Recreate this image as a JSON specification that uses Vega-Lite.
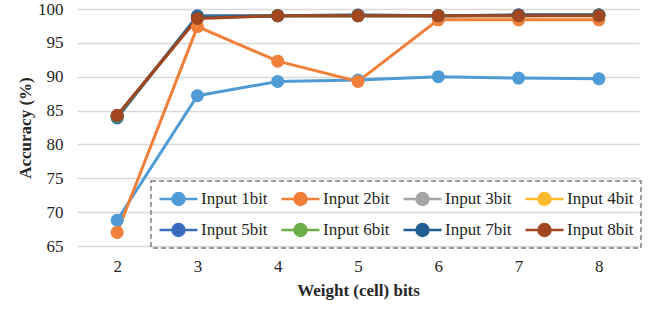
{
  "$schema": "https://vega.github.io/schema/vega-lite/v6.json",
  "width": 562,
  "height": 237,
  "autosize": "none",
  "padding": {"left": 77, "top": 9, "right": 15, "bottom": 65},
  "background": "white",
  "config": {
    "view": {"stroke": null},
    "axis": {"labelFont": "Liberation Serif", "labelFontSize": 17, "labelColor": "#262626", "titleFont": "Liberation Serif", "titleFontSize": 17, "titleFontWeight": "bold", "titleColor": "#262626", "domain": false, "ticks": false}
  },
  "data": {"values": [
    {"bits": 2, "series": "Input 1bit", "acc": 68.8},
    {"bits": 3, "series": "Input 1bit", "acc": 87.2},
    {"bits": 4, "series": "Input 1bit", "acc": 89.3},
    {"bits": 5, "series": "Input 1bit", "acc": 89.5},
    {"bits": 6, "series": "Input 1bit", "acc": 90.0},
    {"bits": 7, "series": "Input 1bit", "acc": 89.8},
    {"bits": 8, "series": "Input 1bit", "acc": 89.7},
    {"bits": 2, "series": "Input 2bit", "acc": 67.0},
    {"bits": 3, "series": "Input 2bit", "acc": 97.4},
    {"bits": 4, "series": "Input 2bit", "acc": 92.3},
    {"bits": 5, "series": "Input 2bit", "acc": 89.3},
    {"bits": 6, "series": "Input 2bit", "acc": 98.4},
    {"bits": 7, "series": "Input 2bit", "acc": 98.4},
    {"bits": 8, "series": "Input 2bit", "acc": 98.4},
    {"bits": 2, "series": "Input 3bit", "acc": 84.1},
    {"bits": 3, "series": "Input 3bit", "acc": 98.9},
    {"bits": 4, "series": "Input 3bit", "acc": 99.0},
    {"bits": 5, "series": "Input 3bit", "acc": 99.1},
    {"bits": 6, "series": "Input 3bit", "acc": 99.0},
    {"bits": 7, "series": "Input 3bit", "acc": 99.1},
    {"bits": 8, "series": "Input 3bit", "acc": 99.1},
    {"bits": 2, "series": "Input 4bit", "acc": 84.0},
    {"bits": 3, "series": "Input 4bit", "acc": 98.9},
    {"bits": 4, "series": "Input 4bit", "acc": 99.0},
    {"bits": 5, "series": "Input 4bit", "acc": 99.0},
    {"bits": 6, "series": "Input 4bit", "acc": 99.0},
    {"bits": 7, "series": "Input 4bit", "acc": 99.0},
    {"bits": 8, "series": "Input 4bit", "acc": 99.0},
    {"bits": 2, "series": "Input 5bit", "acc": 83.9},
    {"bits": 3, "series": "Input 5bit", "acc": 99.0},
    {"bits": 4, "series": "Input 5bit", "acc": 99.0},
    {"bits": 5, "series": "Input 5bit", "acc": 99.1},
    {"bits": 6, "series": "Input 5bit", "acc": 99.0},
    {"bits": 7, "series": "Input 5bit", "acc": 99.1},
    {"bits": 8, "series": "Input 5bit", "acc": 99.1},
    {"bits": 2, "series": "Input 6bit", "acc": 84.1},
    {"bits": 3, "series": "Input 6bit", "acc": 98.8},
    {"bits": 4, "series": "Input 6bit", "acc": 99.0},
    {"bits": 5, "series": "Input 6bit", "acc": 99.0},
    {"bits": 6, "series": "Input 6bit", "acc": 99.0},
    {"bits": 7, "series": "Input 6bit", "acc": 99.0},
    {"bits": 8, "series": "Input 6bit", "acc": 99.1},
    {"bits": 2, "series": "Input 7bit", "acc": 84.2},
    {"bits": 3, "series": "Input 7bit", "acc": 98.8},
    {"bits": 4, "series": "Input 7bit", "acc": 99.0},
    {"bits": 5, "series": "Input 7bit", "acc": 99.0},
    {"bits": 6, "series": "Input 7bit", "acc": 99.0},
    {"bits": 7, "series": "Input 7bit", "acc": 99.1},
    {"bits": 8, "series": "Input 7bit", "acc": 99.1},
    {"bits": 2, "series": "Input 8bit", "acc": 84.3},
    {"bits": 3, "series": "Input 8bit", "acc": 98.6},
    {"bits": 4, "series": "Input 8bit", "acc": 99.0},
    {"bits": 5, "series": "Input 8bit", "acc": 99.0},
    {"bits": 6, "series": "Input 8bit", "acc": 99.0},
    {"bits": 7, "series": "Input 8bit", "acc": 99.0},
    {"bits": 8, "series": "Input 8bit", "acc": 99.0}
  ]},
  "encoding": {
    "x": {"field": "bits", "type": "ordinal", "scale": {"type": "point", "padding": 0.5}, "axis": {"title": "Weight (cell) bits", "labelAngle": 0, "labelPadding": 12, "titlePadding": 8, "grid": false}},
    "y": {"field": "acc", "type": "quantitative", "scale": {"domain": [65, 100], "nice": false, "zero": false}, "axis": {"title": "Accuracy (%)", "values": [65, 70, 75, 80, 85, 90, 95, 100], "grid": true, "gridColor": "#D9D9D9", "gridWidth": 1.5, "labelPadding": 14, "titlePadding": 3}}
  },
  "layer": [
    {
      "mark": {"type": "line", "strokeWidth": 3},
      "encoding": {
        "stroke": {"field": "series", "type": "nominal",
          "scale": {"domain": ["Input 1bit", "Input 2bit", "Input 3bit", "Input 4bit", "Input 5bit", "Input 6bit", "Input 7bit", "Input 8bit"],
                    "range": ["#4E9BD5", "#F07F3A", "#A5A5A5", "#FFBA2E", "#3B6EC0", "#6CAE48", "#1F5C92", "#A2461F"]},
          "legend": {"title": null, "orient": "none", "legendX": 74, "legendY": 172, "direction": "horizontal", "columns": 4, "columnPadding": 8, "rowPadding": 9, "padding": 7,
            "symbolType": "M-1,0H3M0.37,0A0.63,0.63 0 1,0 1.63,0A0.63,0.63 0 1,0 0.37,0Z",
            "symbolSize": 361, "symbolStrokeWidth": 2.5, "labelOffset": 21,
            "labelFont": "Liberation Serif", "labelFontSize": 17, "labelColor": "#262626",
            "encode": {
              "legend": {"update": {"stroke": {"value": "#7F7F7F"}, "strokeDash": {"value": [5, 3]}, "strokeWidth": {"value": 1.5}}},
              "symbols": {"update": {"fill": {"scale": "fill", "field": "value"}, "stroke": {"scale": "stroke", "field": "value"}, "strokeOpacity": {"scale": "strokeOpacity", "field": "value"}, "opacity": {"value": 1}}}}}
        },
        "strokeOpacity": {"field": "series", "type": "nominal",
          "scale": {"domain": ["Input 1bit", "Input 2bit", "Input 3bit", "Input 4bit", "Input 5bit", "Input 6bit", "Input 7bit", "Input 8bit"],
                    "range": [1, 1, 0.5, 0.5, 0.5, 1, 0.5, 0.4]},
          "legend": null}
      }
    },
    {
      "mark": {"type": "circle", "size": 169, "opacity": 1},
      "encoding": {
        "fill": {"field": "series", "type": "nominal",
          "scale": {"domain": ["Input 1bit", "Input 2bit", "Input 3bit", "Input 4bit", "Input 5bit", "Input 6bit", "Input 7bit", "Input 8bit"],
                    "range": ["#4E9BD5", "#F07F3A", "#A5A5A5", "#FFBA2E", "#3168B8", "#6CAE48", "#1F5C92", "#A2461F"]},
          "legend": {"title": null, "orient": "none", "legendX": 74, "legendY": 172, "direction": "horizontal", "columns": 4, "columnPadding": 8, "rowPadding": 9, "padding": 7,
            "symbolType": "M-1,0H3M0.37,0A0.63,0.63 0 1,0 1.63,0A0.63,0.63 0 1,0 0.37,0Z",
            "symbolSize": 361, "symbolStrokeWidth": 2.5, "labelOffset": 21,
            "labelFont": "Liberation Serif", "labelFontSize": 17, "labelColor": "#262626"}
        }
      }
    }
  ]
}
